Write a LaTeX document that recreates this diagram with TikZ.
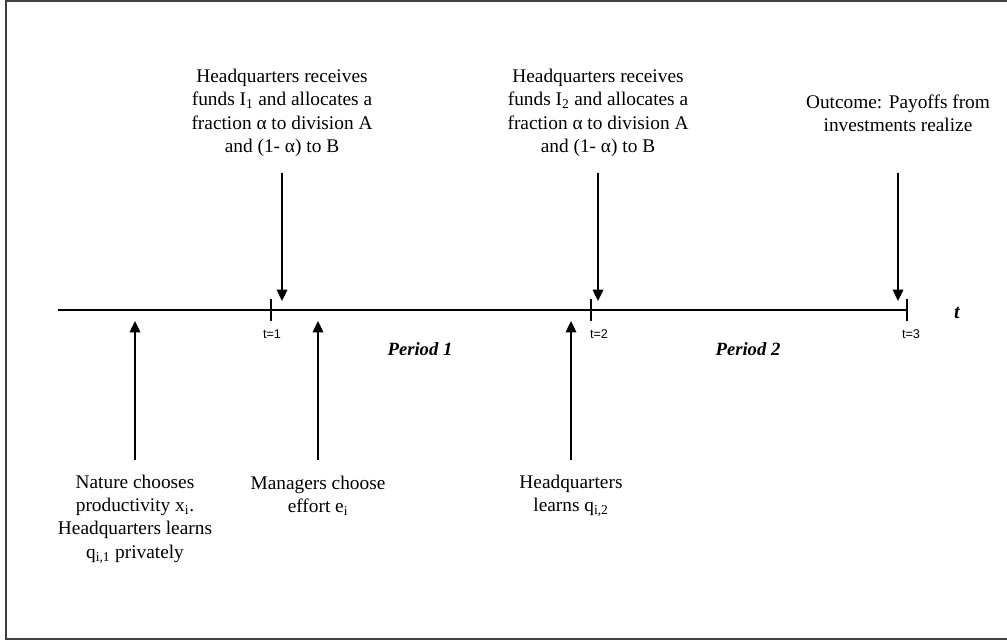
\documentclass[tikz,border=0pt]{standalone}
\usepackage{fontspec}
\setmainfont{Liberation Serif}
\setsansfont{Liberation Sans}
\usetikzlibrary{arrows.meta}
\begin{document}
\begin{tikzpicture}[x=0.75pt,y=-0.75pt,
  evt/.style={align=center,font=\fontsize{14.5}{17.5}\selectfont},
  tlabel/.style={font=\sffamily\fontsize{9.5}{11}\selectfont,inner sep=0pt},
  per/.style={font=\bfseries\itshape\fontsize{14}{16}\selectfont,inner sep=0pt},
  arr/.style={line width=1pt,-{Triangle[width=8pt,length=8.5pt]}},
  axis/.style={line width=1.2pt},
  tick/.style={line width=1pt}]
\useasboundingbox (0,0) rectangle (1007,640);
\draw[line width=1.5pt,black!75] (1007,1) -- (6,1) -- (6,639) -- (1007,639);
% timeline
\coordinate (L) at (58,310);
\coordinate (R) at (907,310);
\draw[axis] (L) -- (R);
\draw[tick] (271,299) coordinate (t1a) -- (271,321) coordinate (t1b);
\draw[tick] (591,299) coordinate (t2a) -- (591,321) coordinate (t2b);
\draw[tick] (907,299) coordinate (t3a) -- (907,321) coordinate (t3b);
\node[tlabel] (l1) at (272,334) {t=1};
\node[tlabel] (l2) at (599,334) {t=2};
\node[tlabel] (l3) at (911,334) {t=3};
\node[font=\bfseries\itshape\fontsize{15}{17}\selectfont,inner sep=0pt] (tt) at (957,313) {t};
\node[per] (p1) at (420,349) {Period 1};
\node[per] (p2) at (748,349) {Period 2};
% top events
\node[evt] (e1) at (282,113) {Headquarters receives\\funds I\textsubscript{1} and allocates a\\fraction α to division A\\and (1- α) to B};
\node[evt] (e2) at (598,113) {Headquarters receives\\funds I\textsubscript{2} and allocates a\\fraction α to division A\\and (1- α) to B};
\node[evt] (e3) at (898,113) {Outcome: Payoffs from\\investments realize};
\coordinate (a1s) at (282,173); \coordinate (a1e) at (282,301);
\coordinate (a2s) at (598,173); \coordinate (a2e) at (598,301);
\coordinate (a3s) at (898,173); \coordinate (a3e) at (898,301);
\draw[arr] (a1s) -- (a1e);
\draw[arr] (a2s) -- (a2e);
\draw[arr] (a3s) -- (a3e);
% bottom events
\node[evt] (b1) at (135,519) {Nature chooses\\productivity x\textsubscript{i}.\\Headquarters learns\\q\textsubscript{i,1} privately};
\node[evt] (b2) at (318,496) {Managers choose\\effort e\textsubscript{i}};
\node[evt] (b3) at (571,496) {Headquarters\\learns q\textsubscript{i,2}};
\coordinate (u1s) at (135,460); \coordinate (u1e) at (135,321);
\coordinate (u2s) at (318,460); \coordinate (u2e) at (318,321);
\coordinate (u3s) at (571,460); \coordinate (u3e) at (571,321);
\draw[arr] (u1s) -- (u1e);
\draw[arr] (u2s) -- (u2e);
\draw[arr] (u3s) -- (u3e);
\end{tikzpicture}
\end{document}
